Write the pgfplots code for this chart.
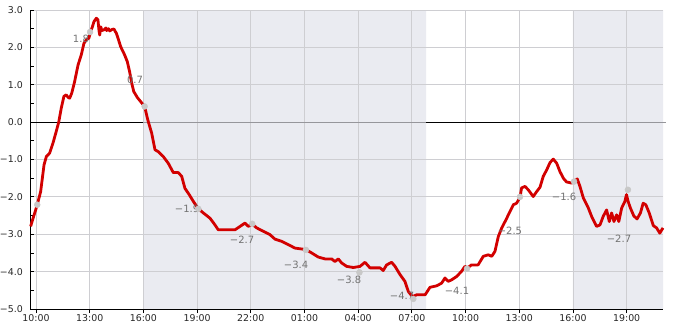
\documentclass[border=0pt]{standalone}
\usepackage{fontspec}
\setmainfont{DejaVu Sans}
\usepackage{pgfplots}
\pgfplotsset{compat=1.18}
\usepackage{pgfplotstable}
\definecolor{curve}{RGB}{210,0,0}
\definecolor{shade}{RGB}{234,235,241}
\definecolor{gridc}{RGB}{206,206,210}
\definecolor{dotc}{RGB}{200,200,200}
\definecolor{lblc}{RGB}{115,115,115}
\definecolor{zgray}{RGB}{150,150,155}

\pgfplotstableread{
h v
9.70 -2.79
9.85 -2.55
9.93 -2.43
10.07 -2.21
10.26 -1.86
10.45 -1.14
10.58 -0.92
10.76 -0.83
10.95 -0.56
11.13 -0.25
11.27 0.00
11.41 0.37
11.56 0.69
11.69 0.73
11.80 0.66
11.88 0.64
12.00 0.78
12.16 1.09
12.35 1.53
12.53 1.80
12.68 2.11
12.81 2.20
12.96 2.25
13.05 2.42
13.15 2.55
13.24 2.69
13.37 2.78
13.46 2.74
13.52 2.45
13.56 2.33
13.62 2.55
13.68 2.45
13.80 2.47
13.90 2.52
13.95 2.45
14.05 2.50
14.12 2.44
14.25 2.48
14.36 2.49
14.42 2.43
14.49 2.38
14.58 2.25
14.73 2.02
14.95 1.80
15.10 1.62
15.23 1.35
15.35 1.04
15.46 0.82
15.66 0.66
15.88 0.53
16.07 0.42
16.22 0.11
16.27 0.02
16.46 -0.29
16.65 -0.74
16.83 -0.79
17.11 -0.92
17.39 -1.10
17.67 -1.35
17.95 -1.35
18.14 -1.45
18.32 -1.77
18.56 -1.94
18.79 -2.12
19.07 -2.32
19.35 -2.43
19.72 -2.57
20.00 -2.75
20.18 -2.88
20.65 -2.88
21.12 -2.88
21.40 -2.79
21.68 -2.70
21.86 -2.79
22.08 -2.73
22.33 -2.83
22.70 -2.92
23.07 -3.01
23.35 -3.13
23.73 -3.19
24.10 -3.28
24.47 -3.37
25.08 -3.41
25.40 -3.50
25.77 -3.61
26.15 -3.66
26.52 -3.66
26.70 -3.73
26.89 -3.66
27.08 -3.77
27.36 -3.86
27.73 -3.89
28.10 -3.86
28.38 -3.75
28.66 -3.90
29.03 -3.90
29.22 -3.90
29.40 -3.97
29.59 -3.82
29.87 -3.75
30.06 -3.86
30.34 -4.08
30.61 -4.26
30.80 -4.53
30.98 -4.64
31.08 -4.66
31.27 -4.62
31.74 -4.62
32.01 -4.42
32.38 -4.38
32.66 -4.31
32.85 -4.17
33.03 -4.26
33.22 -4.22
33.50 -4.13
33.78 -3.99
33.96 -3.86
34.11 -3.90
34.33 -3.82
34.70 -3.82
34.99 -3.59
35.27 -3.55
35.46 -3.59
35.64 -3.46
35.83 -3.06
36.02 -2.83
36.26 -2.61
36.48 -2.39
36.67 -2.21
36.85 -2.17
37.04 -2.01
37.13 -1.76
37.32 -1.72
37.50 -1.81
37.78 -1.99
37.97 -1.86
38.16 -1.74
38.34 -1.45
38.53 -1.28
38.72 -1.08
38.90 -0.99
39.09 -1.10
39.27 -1.32
39.46 -1.50
39.64 -1.60
39.92 -1.63
40.06 -1.60
40.24 -1.52
40.39 -1.72
40.58 -2.03
40.86 -2.30
41.04 -2.52
41.32 -2.79
41.51 -2.75
41.69 -2.52
41.88 -2.35
42.03 -2.66
42.16 -2.43
42.29 -2.66
42.44 -2.48
42.56 -2.66
42.72 -2.30
42.90 -2.12
42.99 -1.94
43.08 -2.12
43.21 -2.30
43.40 -2.51
43.58 -2.59
43.77 -2.43
43.92 -2.17
44.07 -2.21
44.26 -2.43
44.49 -2.77
44.67 -2.83
44.85 -2.97
45.03 -2.83
}\temps

\pgfplotstableread{
h v
10.07 -2.21
13.02 2.41
16.07 0.42
19.07 -2.32
22.08 -2.72
25.08 -3.42
28.07 -4.02
31.08 -4.73
34.08 -3.92
37.04 -2.00
40.06 -1.59
43.07 -1.81
}\dots

\pgfplotstableread{
h v lbl
12.51 2.23 1.8
15.53 1.13 0.7
18.44 -2.32 −1.9
21.51 -3.15 −2.7
24.53 -3.82 −3.4
27.49 -4.22 −3.8
30.45 -4.64 −4.7
33.52 -4.51 −4.1
36.48 -2.91 −2.5
39.50 -2.00 −1.6
42.57 -3.12 −2.7
}\labels

\begin{document}
\begin{tikzpicture}
\begin{axis}[
  set layers,
  scale only axis,
  width=633pt, height=299pt,
  xmin=9.665, xmax=45.03,
  ymin=-5, ymax=3,
  axis x line=bottom, axis y line=left,
  axis line style={-, black, line width=0.8pt},
  xtick={10,13,16,19,22,25,28,31,34,37,40,43},
  xticklabels={10:00,13:00,16:00,19:00,22:00,01:00,04:00,07:00,10:00,13:00,16:00,19:00},
  ytick={-5,-4,-3,-2,-1,0,1,2,3},
  yticklabels={−5.0,−4.0,−3.0,−2.0,−1.0,0.0,1.0,2.0,3.0},
  minor ytick={-4.5,-3.5,-2.5,-1.5,-0.5,0.5,1.5,2.5},
  xtick align=outside, ytick align=inside,
  major tick length=4pt, minor tick length=3.5pt,
  tick style={black, line width=0.8pt},
  xmajorgrids, ymajorgrids,
  major grid style={gridc, line width=0.8pt},
  tick label style={font=\fontsize{9.4}{11}\selectfont, text=black!85},
  yticklabel style={inner sep=0pt, xshift=-7pt},
  xticklabel style={inner sep=0pt, yshift=-1pt},
  clip=false,
]
\addplot[on layer=axis background, fill=shade, draw=none] coordinates {(16,-5) (16,3) (31.8,3) (31.8,-5) (16,-5)};
\addplot[on layer=axis background, fill=shade, draw=none] coordinates {(40,-5) (40,3) (45.03,3) (45.03,-5) (40,-5)};

\addplot[black, line width=0.8pt] coordinates {(9.665,0) (16,0)};
\addplot[zgray, line width=0.8pt] coordinates {(16,0) (31.8,0)};
\addplot[black, line width=0.8pt] coordinates {(31.8,0) (40,0)};
\addplot[zgray, line width=0.8pt] coordinates {(40,0) (45.2,0)};

\addplot[draw=none, nodes near coords, point meta=explicit symbolic,
  nodes near coords align=center,
  every node near coord/.append style={font=\fontsize{10}{12}\selectfont, text=lblc, inner sep=0pt, anchor=center}]
  table[x=h, y=v, meta=lbl] {\labels};

\addplot[curve, line width=2.8pt, line join=round] table[x=h, y=v] {\temps};

\addplot[only marks, mark=*, mark size=3pt, dotc, mark options={draw=dotc, fill=dotc}] table[x=h, y=v] {\dots};
\end{axis}
\pgfresetboundingbox
\path[use as bounding box] (-30pt,-21pt) rectangle (655pt,309pt);
\end{tikzpicture}
\end{document}
